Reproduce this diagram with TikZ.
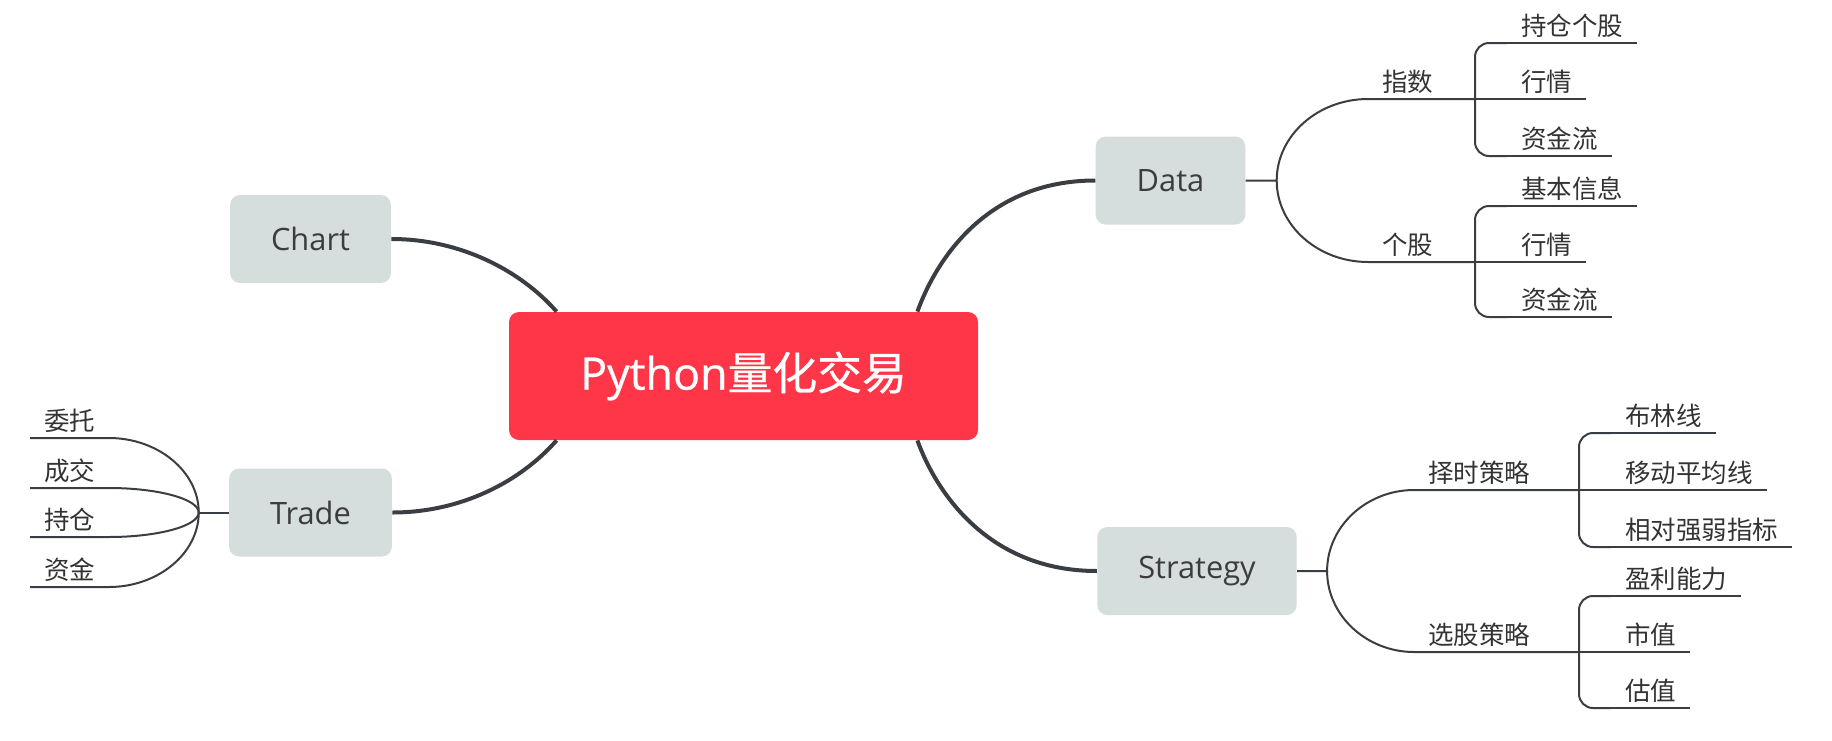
\documentclass[tikz,border=0pt]{standalone}
\usepackage{fontspec}
\setmainfont{Open Sans}
\newfontfamily\cjk{Noto Sans CJK SC}
\newfontfamily\rootLatin[FakeBold=0.6]{Open Sans}
\newfontfamily\rootCjk[FakeBold=0.6]{Noto Sans CJK SC}
\usetikzlibrary{calc}

\begin{document}
\begin{tikzpicture}[x=0.5pt, y=-0.5pt,
    rootBox/.style={fill=rootColour, rounded corners=5pt, text=white, minimum width=234.5pt, minimum height=64pt, font=\fontsize{22.4pt}{26pt}\rootLatin},
    topicBox/.style={fill=topicColour, rounded corners=5pt, text=topicText, minimum height=44pt, inner xsep=20.5pt, font=\fontsize{15.4pt}{18pt}\selectfont},
    leafText/.style={anchor=south west, inner xsep=7pt, inner ysep=4pt, outer sep=0pt, text depth=0pt, text=leafColour, font=\fontsize{12.75pt}{15pt}\selectfont\cjk},
    mainLine/.style={draw=lineColour, line width=2pt},
    subLine/.style={draw=lineColour, line width=1pt}]

    \definecolor{rootColour}{HTML}{FF3648}
    \definecolor{topicColour}{HTML}{D5DEDD}
    \definecolor{topicText}{HTML}{3C3C3C}
    \definecolor{leafColour}{HTML}{333333}
    \definecolor{lineColour}{HTML}{3A3D42}

    \useasboundingbox (0,0) rectangle (1832,740);

    % Root and main topics
    \node[rootBox] (root) at (743.5,376) {Python{\rootCjk 量化交易}};
    \node[topicBox] (chart) at (310.5,239) {Chart};
    \node[topicBox] (trade) at (310.5,512.5) {Trade};
    \node[topicBox] (data) at (1170.5,180.5) {Data};
    \node[topicBox] (strategy) at (1197,571) {Strategy};

    % Main branches
    \draw[mainLine] ($(root.north west)+(48,0)$) .. controls +(-37,-42) and +(68,0) .. (chart.east);
    \draw[mainLine] ($(root.south west)+(48,0)$) .. controls +(-37,42) and +(68,0) .. (trade.east);
    \draw[mainLine] ($(root.north east)+(-61,0)$) .. controls +(18,-50) and +(-110,0) .. (data.west);
    \draw[mainLine] ($(root.south east)+(-61,0)$) .. controls +(18,50) and +(-110,0) .. (strategy.west);

    % Data
    \coordinate (dataFork) at ($(data.east)+(31,0)$);
    \node[leafText] (zhishu) at (1368,99) {指数};
    \node[leafText] (gegu) at (1368,262) {个股};
    \coordinate (zhishuFork) at (1475,99);
    \coordinate (geguFork) at (1475,262);
    \draw[subLine] (data.east) -- (dataFork) .. controls +(0,-45) and +(-50,0) .. (zhishu.south west) -- (zhishu.south east) -- (zhishuFork);
    \draw[subLine] (dataFork) .. controls +(0,45) and +(-50,0) .. (gegu.south west) -- (gegu.south east) -- (geguFork);

    \foreach \name/\txt/\y in {zsA/持仓个股/43, zsB/行情/99, zsC/资金流/156, ggA/基本信息/206, ggB/行情/262, ggC/资金流/317}
        \node[leafText] (\name) at (1507,\y) {\txt};
    \draw[subLine, rounded corners=7pt] (zsA.south west) -| (zhishuFork) |- (zsC.south west);
    \draw[subLine] (zhishuFork) -- (zsB.south west);
    \draw[subLine, rounded corners=7pt] (ggA.south west) -| (geguFork) |- (ggC.south west);
    \draw[subLine] (geguFork) -- (ggB.south west);

    % Strategy
    \coordinate (strategyFork) at ($(strategy.east)+(30,0)$);
    \node[leafText] (zeshi) at (1414,490) {择时策略};
    \node[leafText] (xuangu) at (1414,652) {选股策略};
    \coordinate (zeshiFork) at (1579,490);
    \coordinate (xuanguFork) at (1579,652);
    \draw[subLine] (strategy.east) -- (strategyFork) .. controls +(0,-45) and +(-47,0) .. (zeshi.south west) -- (zeshi.south east) -- (zeshiFork);
    \draw[subLine] (strategyFork) .. controls +(0,45) and +(-47,0) .. (xuangu.south west) -- (xuangu.south east) -- (xuanguFork);

    \foreach \name/\txt/\y in {zsA2/布林线/433, zsB2/移动平均线/490, zsC2/相对强弱指标/547, xgA/盈利能力/596, xgB/市值/652, xgC/估值/708}
        \node[leafText] (\name) at (1611,\y) {\txt};
    \draw[subLine, rounded corners=7pt] (zsA2.south west) -| (zeshiFork) |- (zsC2.south west);
    \draw[subLine] (zeshiFork) -- (zsB2.south west);
    \draw[subLine, rounded corners=7pt] (xgA.south west) -| (xuanguFork) |- (xgC.south west);
    \draw[subLine] (xuanguFork) -- (xgB.south west);

    % Leaf underlines
    \foreach \name in {zsA,zsB,zsC,ggA,ggB,ggC,zsA2,zsB2,zsC2,xgA,xgB,xgC}
        \draw[subLine] (\name.south west) -- (\name.south east);

    % Trade
    \coordinate (tradeFork) at ($(trade.west)+(-30,0)$);
    \draw[subLine] (trade.west) -- (tradeFork);
    \foreach \name/\txt/\y in {wt/委托/438, cj/成交/488, cc/持仓/537, zj/资金/587} {
        \node[leafText] (\name) at (30,\y) {\txt};
        \draw[subLine] (\name.south west) -- (\name.south east) .. controls +(49,0) and +(0,{0.55*(\y-512.5)}) .. (tradeFork);
    }

\end{tikzpicture}
\end{document}
